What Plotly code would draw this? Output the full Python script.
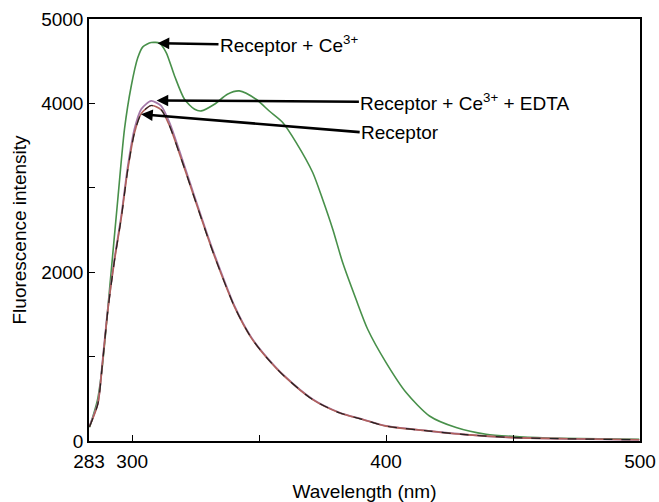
import plotly.graph_objects as go

# Wavelength (nm) sample points
green_x = [283.2, 286.3, 288.3, 289.9, 291.1, 294.3, 297.0, 299.6, 302.2, 304.2, 307.5, 310.8,
           313.4, 316.7, 320.6, 324.6, 327.2, 332.4, 337.5, 342.2, 348.8, 354.1, 359.2, 364.6,
           371.1, 375.0, 379.0, 382.9, 388.2, 392.8, 400.0, 407.9, 417.1, 427.6, 439.4, 452.5,
           468.2, 484.0, 499.7]
green_y = [162, 480, 900, 1400, 1800, 2850, 3700, 4200, 4540, 4670, 4721, 4713,
           4603, 4325, 4049, 3930, 3911, 3990, 4109, 4148, 4049, 3907, 3777, 3536,
           3181, 2864, 2509, 2114, 1676, 1321, 929, 574, 296, 159, 79, 50,
           32, 26, 20]

low_x = [283.2, 286.5, 288.4, 290.4, 293.0, 295.7, 298.3, 300.9, 303.6, 307.5, 311.4, 314.7,
         319.3, 324.5, 329.8, 332.4, 340.3, 346.9, 353.4, 360.0, 371.1, 381.6, 390.8, 400.0,
         417.1, 430.2, 449.9, 472.2, 499.7]
edta_y = [178, 455, 968, 1561, 2153, 2666, 3259, 3697, 3934, 4029, 3970, 3773,
          3377, 2903, 2429, 2210, 1600, 1230, 980, 770, 494, 337, 257, 178,
          119, 79, 40, 26, 14]
receptor_y = [170, 440, 950, 1540, 2130, 2640, 3220, 3650, 3880, 3975, 3925, 3735,
              3345, 2880, 2410, 2190, 1590, 1222, 972, 765, 490, 335, 255, 176,
              118, 78, 40, 26, 14]

x_tickvals = [283, 300, 400, 500]
x_ticktext = ["283", "300", "400", "500"]
y_tickvals = [0, 2000, 4000, 5000]
y_ticktext = ["0", "2000", "4000", "5000"]

# annotation labels: (label, arrow tip x, tip y, tail x, tail y) in data units
labels = ["Receptor + Ce<sup>3+</sup>", "Receptor + Ce<sup>3+</sup> + EDTA", "Receptor"]
tip_x = [310.0, 309.6, 303.5]
tip_y = [4713, 4035, 3871]
tail_x = [334.0, 389.3, 389.6]
tail_y = [4700, 4020, 3660]

FONT = "Liberation Sans, Arial, Helvetica, sans-serif"

fig = go.Figure()
fig.add_trace(go.Scatter(x=green_x, y=green_y, mode="lines",
                         line=dict(color="#48904a", width=1.6, shape="spline", smoothing=0.7),
                         name="Receptor + Ce3+"))
fig.add_trace(go.Scatter(x=low_x, y=edta_y, mode="lines",
                         line=dict(color="#a478a8", width=1.8, shape="spline", smoothing=0.7),
                         name="Receptor + Ce3+ + EDTA"))
fig.add_trace(go.Scatter(x=low_x, y=receptor_y, mode="lines",
                         line=dict(color="#b0605a", width=1.6, shape="spline", smoothing=0.7),
                         name="Receptor"))
fig.add_trace(go.Scatter(x=low_x, y=receptor_y, mode="lines",
                         line=dict(color="#222222", width=1.2, dash="dash", shape="spline", smoothing=0.7),
                         showlegend=False, hoverinfo="skip"))

ann = []
for lab, tx, ty, ax, ay in zip(labels, tip_x, tip_y, tail_x, tail_y):
    ann.append(dict(x=tx, y=ty, ax=ax, ay=ay, xref="x", yref="y", axref="x", ayref="y",
                    text=lab, showarrow=True, arrowhead=2, arrowsize=0.9, arrowwidth=2.6,
                    arrowcolor="black", xanchor="left", yanchor="middle", borderpad=0,
                    font=dict(family=FONT, size=19, color="black")))

fig.update_layout(
    width=659, height=502,
    margin=dict(l=89, r=19, t=19, b=61),
    paper_bgcolor="white", plot_bgcolor="white",
    showlegend=False,
    font=dict(family=FONT, size=19, color="black"),
    annotations=ann,
    xaxis=dict(range=[283, 500], tickvals=x_tickvals, ticktext=x_ticktext,
               ticks="inside", ticklen=6, tickwidth=1.3, tickcolor="black",
               minor=dict(tick0=300, dtick=50, ticks="inside", ticklen=6, tickwidth=1.3, tickcolor="black",
                          showgrid=False),
               showline=True, linecolor="black", linewidth=1.5, mirror=True,
               showgrid=False, zeroline=False, ticklabelstandoff=2, automargin=False,
               title=dict(text="Wavelength (nm)", font=dict(size=19), standoff=14)),
    yaxis=dict(range=[0, 5000], tickvals=y_tickvals, ticktext=y_ticktext,
               ticks="inside", ticklen=6, tickwidth=1.3, tickcolor="black",
               minor=dict(tick0=0, dtick=1000, ticks="inside", ticklen=6, tickwidth=1.3, tickcolor="black",
                          showgrid=False),
               showline=True, linecolor="black", linewidth=1.5, mirror=True,
               showgrid=False, zeroline=False, automargin=False,
               title=dict(text="Fluorescence intensity", font=dict(size=19), standoff=10)),
)

fig.write_html("out.html")
